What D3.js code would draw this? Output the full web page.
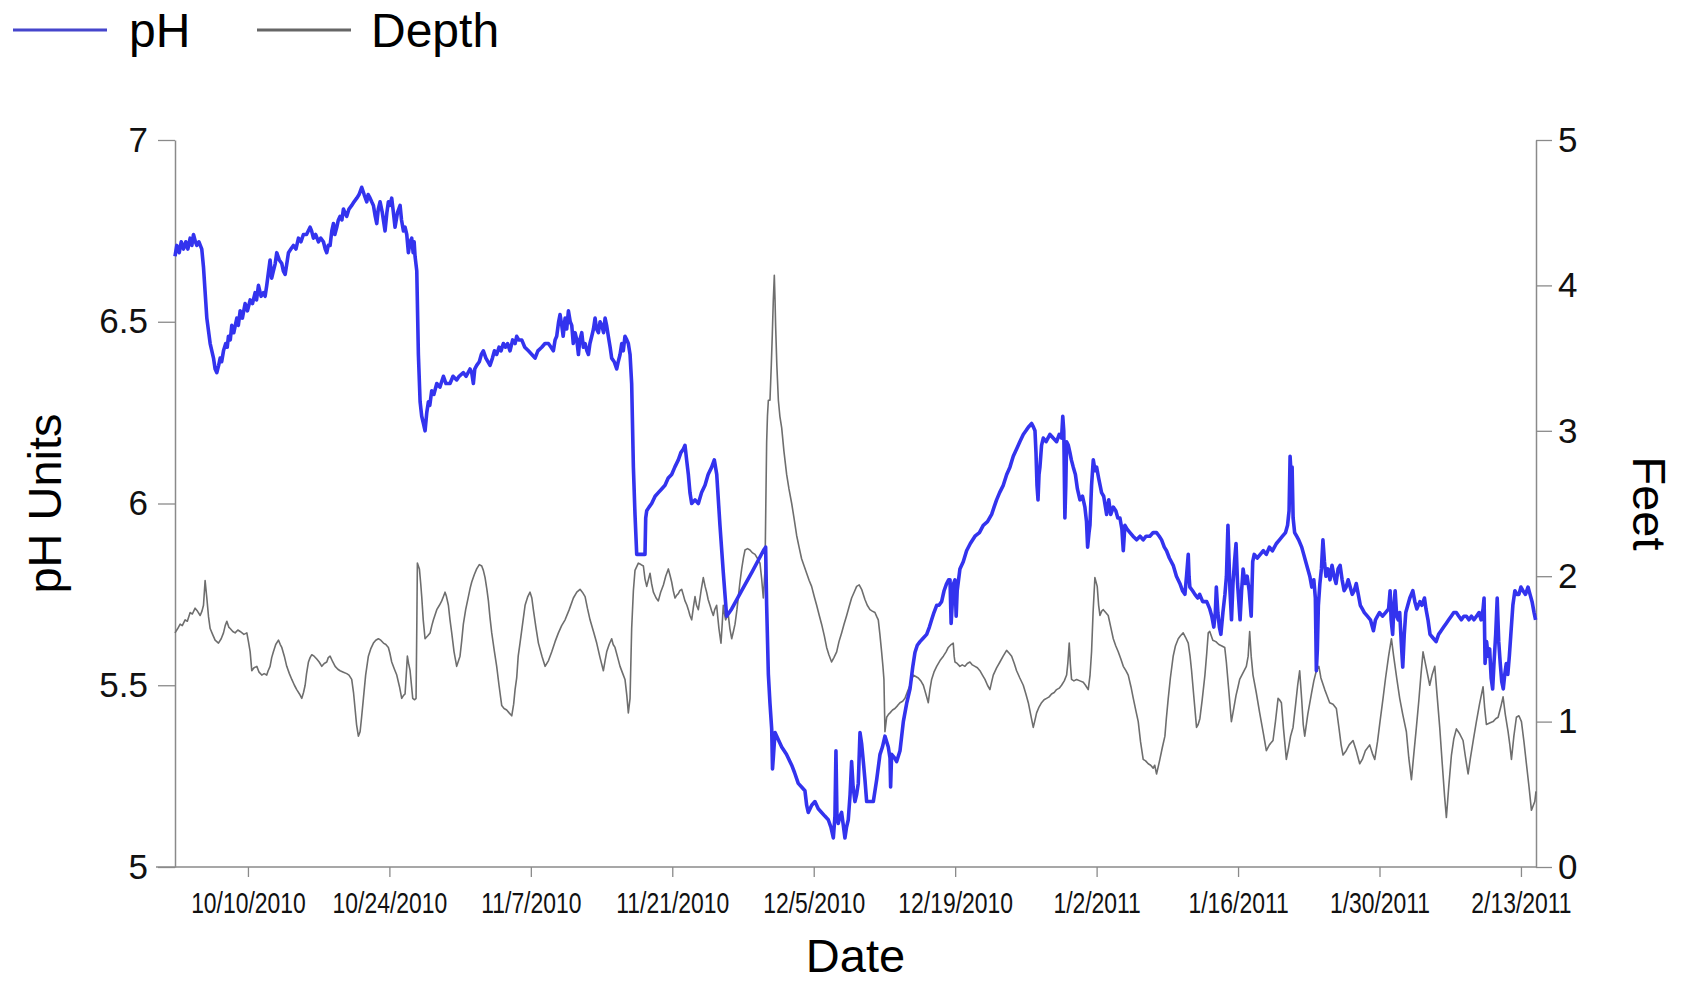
<!DOCTYPE html>
<html>
<head>
<meta charset="utf-8">
<script src="https://cdn.jsdelivr.net/npm/d3@7/dist/d3.min.js"></script>
<style>
  body { margin: 0; background: #fff; }
  svg { display: block; font-family: "Liberation Sans", Arial, sans-serif; }
</style>
</head>
<body>
<svg id="chart" width="1682" height="986"></svg>
<script>
// readings are stored as [days after 10/1/2010, value]
var phData = [
  [1.78,6.68],[1.96,6.71],[2.2,6.69],[2.4,6.72],[2.62,6.70],[2.85,6.72],[3.05,6.70],[3.28,6.73],[3.45,6.71],[3.61,6.74],[3.8,6.72],[3.94,6.71],[4.15,6.72],[4.43,6.70],
  [4.6,6.65],[4.93,6.51],[5.26,6.44],[5.59,6.40],[5.75,6.37],[5.92,6.36],[6.1,6.38],[6.25,6.40],[6.4,6.39],[6.58,6.42],[6.8,6.44],[6.95,6.43],[7.07,6.46],[7.25,6.45],
  [7.4,6.49],[7.6,6.47],[7.9,6.51],[8.05,6.49],[8.23,6.53],[8.45,6.51],[8.72,6.55],[8.95,6.53],[9.22,6.56],[9.45,6.55],[9.71,6.58],[9.85,6.56],[10.04,6.60],[10.3,6.57],
  [10.53,6.58],[10.7,6.57],[10.86,6.60],[11.0,6.63],[11.19,6.67],[11.35,6.62],[11.52,6.64],[11.7,6.66],[11.85,6.69],[12.1,6.67],[12.35,6.66],[12.5,6.64],[12.68,6.63],
  [12.85,6.66],[13.01,6.69],[13.25,6.70],[13.5,6.71],[13.75,6.70],[14.0,6.73],[14.25,6.72],[14.49,6.74],[14.8,6.74],[15.15,6.76],[15.3,6.75],[15.48,6.73],[15.7,6.74],
  [15.98,6.72],[16.2,6.73],[16.47,6.72],[16.65,6.70],[16.8,6.69],[16.95,6.71],[17.13,6.71],[17.3,6.75],[17.46,6.77],[17.6,6.74],[17.79,6.76],[17.95,6.78],[18.12,6.79],
  [18.3,6.78],[18.45,6.81],[18.6,6.80],[18.78,6.79],[19.0,6.81],[19.27,6.82],[19.5,6.83],[19.77,6.84],[20.0,6.85],[20.26,6.87],[20.5,6.85],[20.76,6.83],[20.9,6.85],
  [21.09,6.84],[21.25,6.83],[21.42,6.82],[21.6,6.79],[21.75,6.77],[21.9,6.81],[22.08,6.83],[22.3,6.80],[22.57,6.75],[22.75,6.80],[22.9,6.83],[23.05,6.82],[23.23,6.84],
  [23.4,6.80],[23.56,6.76],[23.8,6.80],[24.06,6.82],[24.2,6.78],[24.39,6.75],[24.55,6.76],[24.72,6.74],[24.88,6.69],[25.05,6.72],[25.21,6.73],[25.35,6.69],[25.45,6.72],
  [25.54,6.68],[25.71,6.64],[25.87,6.41],[26.04,6.28],[26.2,6.24],[26.37,6.22],[26.53,6.20],[26.7,6.25],[26.86,6.28],[27.0,6.27],[27.19,6.31],[27.4,6.30],[27.69,6.33],
  [28.0,6.32],[28.35,6.35],[28.6,6.33],[29.0,6.33],[29.3,6.35],[29.66,6.34],[29.9,6.35],[30.32,6.36],[30.6,6.35],[30.98,6.37],[31.15,6.36],[31.31,6.33],[31.45,6.37],
  [31.64,6.38],[31.9,6.39],[32.1,6.41],[32.3,6.42],[32.55,6.40],[32.75,6.39],[32.96,6.38],[33.2,6.40],[33.4,6.42],[33.62,6.41],[33.85,6.43],[34.05,6.42],[34.28,6.44],
  [34.5,6.43],[34.7,6.44],[34.94,6.42],[35.2,6.45],[35.44,6.44],[35.6,6.46],[35.8,6.45],[36.1,6.45],[36.4,6.43],[36.76,6.42],[37.1,6.41],[37.42,6.40],[37.7,6.42],
  [38.08,6.43],[38.4,6.44],[38.74,6.44],[39.0,6.43],[39.23,6.42],[39.4,6.45],[39.56,6.46],[39.75,6.50],[39.89,6.52],[40.06,6.49],[40.2,6.46],[40.39,6.51],[40.55,6.48],
  [40.72,6.53],[40.9,6.50],[41.05,6.49],[41.2,6.44],[41.38,6.47],[41.55,6.45],[41.71,6.41],[41.85,6.45],[42.04,6.47],[42.2,6.43],[42.37,6.44],[42.55,6.42],[42.7,6.41],
  [42.85,6.44],[43.03,6.46],[43.2,6.48],[43.36,6.51],[43.5,6.48],[43.69,6.47],[43.85,6.50],[44.02,6.49],[44.2,6.47],[44.35,6.51],[44.5,6.49],[44.67,6.46],[44.85,6.43],
  [45.0,6.40],[45.25,6.39],[45.5,6.37],[45.65,6.39],[45.83,6.41],[46.0,6.44],[46.15,6.42],[46.32,6.46],[46.5,6.45],[46.65,6.44],[46.82,6.41],[46.98,6.33],[47.15,6.10],
  [47.31,5.97],[47.48,5.86],[47.9,5.86],[48.3,5.86],[48.37,5.96],[48.47,5.98],[48.7,5.99],[48.96,6.00],[49.3,6.02],[49.62,6.03],[49.95,6.04],[50.28,6.05],[50.6,6.07],
  [50.94,6.08],[51.25,6.10],[51.6,6.12],[51.85,6.14],[52.1,6.15],[52.26,6.16],[52.42,6.12],[52.59,6.08],[52.75,6.03],[52.92,6.00],[53.25,6.01],[53.58,6.00],[53.9,6.03],
  [54.24,6.05],[54.55,6.08],[54.9,6.10],[55.16,6.12],[55.4,6.08],[55.72,5.94],[56.05,5.81],[56.38,5.69],[56.88,5.71],[57.87,5.76],[58.86,5.81],[60.01,5.87],[60.24,5.88],
  [60.34,5.72],[60.51,5.53],[60.67,5.45],[60.84,5.38],[60.92,5.27],[61.0,5.30],[61.17,5.37],[61.5,5.35],[61.83,5.33],[62.3,5.31],[62.82,5.28],[63.1,5.26],[63.47,5.23],
  [63.8,5.22],[64.13,5.21],[64.3,5.17],[64.46,5.15],[64.8,5.17],[65.12,5.18],[65.45,5.16],[65.78,5.15],[66.1,5.14],[66.44,5.13],[66.7,5.11],[66.94,5.08],[67.05,5.12],
  [67.1,5.14],[67.2,5.32],[67.3,5.14],[67.43,5.12],[67.6,5.14],[67.76,5.15],[67.95,5.11],[68.09,5.08],[68.25,5.11],[68.42,5.13],[68.6,5.20],[68.75,5.29],[68.9,5.22],
  [69.08,5.18],[69.25,5.20],[69.41,5.23],[69.58,5.37],[69.74,5.34],[69.91,5.29],[70.07,5.24],[70.24,5.18],[70.6,5.18],[70.9,5.18],[71.23,5.24],[71.56,5.31],[71.8,5.33],
  [72.05,5.36],[72.38,5.33],[72.55,5.30],[72.61,5.22],[72.71,5.31],[73.0,5.30],[73.21,5.29],[73.54,5.32],[73.87,5.40],[74.2,5.45],[74.53,5.49],[74.8,5.55],[75.02,5.59],
  [75.25,5.61],[75.52,5.62],[75.85,5.63],[76.18,5.64],[76.45,5.66],[76.67,5.68],[76.9,5.70],[77.17,5.72],[77.4,5.72],[77.66,5.73],[77.9,5.76],[78.16,5.78],[78.35,5.79],
  [78.49,5.79],[78.6,5.67],[78.7,5.72],[78.85,5.78],[78.98,5.79],[79.1,5.69],[79.2,5.76],[79.47,5.82],[79.8,5.84],[80.13,5.87],[80.5,5.89],[80.96,5.91],[81.4,5.92],
  [81.78,5.94],[82.2,5.95],[82.61,5.97],[82.85,5.99],[83.1,6.01],[83.4,6.03],[83.76,6.05],[84.1,6.08],[84.42,6.10],[84.75,6.13],[85.08,6.15],[85.4,6.17],[85.74,6.19],
  [86.0,6.20],[86.24,6.21],[86.57,6.22],[86.75,6.21],[86.9,6.20],[87.0,6.14],[87.1,6.05],[87.2,6.01],[87.3,6.08],[87.39,6.10],[87.55,6.16],[87.72,6.18],[88.0,6.17],
  [88.38,6.19],[88.7,6.18],[89.04,6.17],[89.3,6.19],[89.53,6.18],[89.65,6.24],[89.75,6.20],[89.86,5.96],[89.95,6.05],[90.03,6.17],[90.2,6.16],[90.36,6.14],[90.5,6.12],
  [90.69,6.10],[90.9,6.08],[91.1,6.04],[91.35,6.01],[91.6,6.02],[91.84,5.99],[92.0,5.95],[92.11,5.88],[92.25,5.92],[92.34,5.94],[92.5,6.05],[92.67,6.12],[92.85,6.09],
  [93.0,6.10],[93.2,6.07],[93.49,6.03],[93.7,6.02],[93.99,5.97],[94.2,6.01],[94.4,5.97],[94.65,5.99],[94.9,5.98],[95.1,5.96],[95.31,5.96],[95.5,5.93],[95.64,5.87],
  [95.8,5.94],[96.0,5.93],[96.3,5.92],[96.6,5.91],[96.96,5.90],[97.3,5.91],[97.61,5.90],[97.9,5.91],[98.27,5.91],[98.6,5.92],[98.93,5.92],[99.2,5.91],[99.43,5.90],
  [99.7,5.88],[99.92,5.87],[100.2,5.85],[100.58,5.83],[100.9,5.80],[101.24,5.78],[101.5,5.76],[101.74,5.75],[101.9,5.80],[102.07,5.86],[102.15,5.80],[102.23,5.77],
  [102.5,5.76],[102.73,5.75],[103.0,5.74],[103.2,5.75],[103.5,5.73],[103.9,5.73],[104.2,5.71],[104.4,5.69],[104.6,5.66],[104.75,5.70],[104.85,5.77],[105.0,5.70],
  [105.15,5.66],[105.3,5.64],[105.5,5.70],[105.7,5.75],[105.85,5.80],[106.0,5.94],[106.1,5.85],[106.2,5.76],[106.35,5.68],[106.5,5.78],[106.65,5.84],[106.8,5.89],
  [106.95,5.78],[107.1,5.72],[107.2,5.68],[107.35,5.76],[107.5,5.82],[107.7,5.78],[107.9,5.80],[108.1,5.76],[108.3,5.69],[108.45,5.84],[108.6,5.86],[108.9,5.85],
  [109.2,5.86],[109.5,5.87],[109.8,5.86],[110.1,5.88],[110.4,5.87],[110.8,5.89],[111.1,5.90],[111.4,5.91],[111.7,5.92],[111.9,5.94],[112.05,5.98],[112.15,6.13],
  [112.25,6.08],[112.35,6.10],[112.45,5.96],[112.6,5.92],[112.8,5.91],[113.0,5.90],[113.3,5.88],[113.5,5.86],[113.7,5.84],[113.9,5.82],[114.1,5.80],[114.3,5.77],
  [114.5,5.79],[114.65,5.74],[114.75,5.54],[114.85,5.60],[114.95,5.72],[115.1,5.78],[115.25,5.82],[115.4,5.90],[115.55,5.84],[115.7,5.80],[115.9,5.82],[116.1,5.79],
  [116.3,5.83],[116.5,5.80],[116.7,5.78],[116.9,5.82],[117.1,5.83],[117.3,5.79],[117.5,5.76],[117.7,5.77],[117.9,5.79],[118.1,5.77],[118.3,5.75],[118.5,5.76],
  [118.7,5.78],[118.9,5.75],[119.1,5.72],[119.3,5.71],[119.5,5.70],[119.8,5.69],[120.1,5.68],[120.4,5.65],[120.6,5.68],[120.8,5.69],[121.0,5.70],[121.3,5.69],
  [121.6,5.70],[121.9,5.71],[122.05,5.76],[122.15,5.68],[122.3,5.64],[122.45,5.73],[122.55,5.76],[122.7,5.69],[122.85,5.68],[123.0,5.70],[123.15,5.62],[123.3,5.55],
  [123.45,5.64],[123.6,5.70],[123.8,5.72],[124.0,5.74],[124.3,5.76],[124.5,5.73],[124.7,5.71],[125.0,5.73],[125.2,5.72],[125.45,5.74],[125.6,5.71],[125.8,5.68],
  [126.0,5.64],[126.3,5.63],[126.6,5.62],[126.85,5.64],[127.1,5.65],[127.35,5.66],[127.6,5.67],[127.85,5.68],[128.1,5.69],[128.35,5.70],[128.6,5.70],[128.85,5.69],
  [129.1,5.68],[129.35,5.69],[129.6,5.69],[129.85,5.68],[130.1,5.69],[130.35,5.68],[130.6,5.69],[130.85,5.70],[131.05,5.68],[131.25,5.71],[131.35,5.74],[131.45,5.56],
  [131.6,5.62],[131.75,5.58],[131.9,5.60],[132.05,5.52],[132.2,5.49],[132.35,5.57],[132.5,5.64],[132.65,5.74],[132.8,5.62],[132.95,5.56],[133.1,5.51],[133.25,5.49],
  [133.4,5.53],[133.55,5.56],[133.7,5.53],[133.85,5.58],[134.0,5.64],[134.2,5.72],[134.4,5.76],[134.6,5.75],[134.8,5.75],[135.0,5.77],[135.2,5.76],[135.45,5.75],
  [135.7,5.77],[135.9,5.75],[136.1,5.73],[136.3,5.70],[136.45,5.68]
];

var depthData = [
  [1.78,1.61],[2.05,1.64],[2.29,1.67],[2.5,1.66],[2.78,1.70],[3.0,1.69],[3.28,1.75],[3.5,1.74],[3.77,1.78],[4.0,1.76],[4.27,1.73],[4.45,1.76],[4.6,1.80],[4.76,1.97],
  [4.93,1.85],[5.1,1.72],[5.26,1.64],[5.5,1.60],[5.75,1.56],[6.08,1.54],[6.35,1.57],[6.58,1.61],[6.75,1.66],[6.91,1.69],[7.1,1.65],[7.24,1.64],[7.5,1.62],[7.73,1.61],
  [8.0,1.63],[8.23,1.62],[8.6,1.60],[8.89,1.61],[9.05,1.55],[9.22,1.48],[9.38,1.35],[9.6,1.37],[9.88,1.38],[10.1,1.34],[10.37,1.32],[10.6,1.33],[10.86,1.32],[11.0,1.35],
  [11.19,1.38],[11.35,1.44],[11.52,1.48],[11.75,1.53],[12.02,1.56],[12.2,1.53],[12.35,1.51],[12.6,1.45],[12.84,1.38],[13.1,1.33],[13.34,1.29],[13.6,1.25],[13.83,1.22],
  [14.1,1.19],[14.33,1.16],[14.5,1.20],[14.66,1.25],[14.8,1.33],[14.99,1.41],[15.15,1.44],[15.32,1.46],[15.55,1.45],[15.81,1.43],[16.05,1.41],[16.31,1.38],[16.55,1.40],
  [16.8,1.41],[16.95,1.44],[17.13,1.45],[17.4,1.41],[17.63,1.38],[17.9,1.36],[18.12,1.35],[18.45,1.34],[18.78,1.33],[19.0,1.32],[19.27,1.29],[19.45,1.20],[19.6,1.09],
  [19.75,0.98],[19.93,0.90],[20.1,0.93],[20.25,1.03],[20.43,1.16],[20.65,1.32],[20.92,1.45],[21.15,1.50],[21.42,1.54],[21.65,1.56],[21.91,1.57],[22.15,1.56],[22.41,1.54],
  [22.65,1.53],[22.9,1.51],[23.05,1.47],[23.23,1.41],[23.5,1.36],[23.73,1.32],[24.0,1.24],[24.22,1.16],[24.4,1.18],[24.55,1.19],[24.65,1.30],[24.78,1.45],[24.9,1.40],
  [25.05,1.35],[25.2,1.24],[25.31,1.16],[25.5,1.15],[25.64,1.16],[25.72,1.70],[25.77,2.09],[25.97,2.05],[26.1,1.95],[26.2,1.86],[26.35,1.70],[26.53,1.57],[26.8,1.59],
  [27.03,1.61],[27.2,1.66],[27.36,1.70],[27.5,1.73],[27.69,1.77],[27.95,1.80],[28.18,1.83],[28.35,1.86],[28.51,1.89],[28.65,1.86],[28.84,1.80],[29.0,1.70],[29.17,1.61],
  [29.4,1.48],[29.66,1.38],[29.85,1.42],[29.99,1.45],[30.15,1.55],[30.32,1.67],[30.55,1.77],[30.82,1.86],[31.0,1.92],[31.15,1.96],[31.4,2.01],[31.64,2.05],[31.9,2.08],
  [32.14,2.07],[32.3,2.04],[32.47,1.99],[32.65,1.91],[32.8,1.83],[32.95,1.72],[33.13,1.61],[33.4,1.48],[33.62,1.38],[33.85,1.25],[34.12,1.11],[34.35,1.09],[34.61,1.08],
  [34.85,1.06],[35.11,1.04],[35.3,1.12],[35.44,1.22],[35.6,1.30],[35.75,1.45],[35.93,1.54],[36.2,1.68],[36.43,1.80],[36.7,1.86],[36.92,1.89],[37.1,1.85],[37.25,1.77],
  [37.5,1.65],[37.75,1.54],[38.1,1.45],[38.41,1.38],[38.75,1.42],[39.07,1.48],[39.4,1.55],[39.73,1.61],[40.05,1.66],[40.39,1.70],[40.8,1.77],[41.21,1.85],[41.55,1.89],
  [41.87,1.91],[42.1,1.89],[42.37,1.86],[42.6,1.78],[42.86,1.70],[43.2,1.62],[43.52,1.54],[43.85,1.44],[44.18,1.35],[44.35,1.42],[44.51,1.48],[44.75,1.53],[45.0,1.57],
  [45.15,1.53],[45.33,1.51],[45.6,1.44],[45.83,1.38],[46.1,1.33],[46.32,1.29],[46.5,1.18],[46.65,1.06],[46.82,1.16],[46.98,1.64],[47.15,1.90],[47.31,2.04],[47.64,2.09],
  [47.9,2.08],[48.14,2.07],[48.3,1.98],[48.47,1.93],[48.65,1.98],[48.8,2.02],[48.95,1.95],[49.13,1.89],[49.4,1.85],[49.62,1.83],[49.85,1.89],[50.12,1.94],[50.35,2.00],
  [50.61,2.05],[50.8,2.00],[50.94,1.96],[51.1,1.90],[51.27,1.85],[51.45,1.87],[51.6,1.88],[51.75,1.90],[51.93,1.91],[52.1,1.87],[52.26,1.83],[52.45,1.80],[52.59,1.77],
  [52.75,1.73],[52.92,1.70],[53.1,1.79],[53.25,1.86],[53.4,1.80],[53.58,1.77],[53.85,1.90],[54.07,1.99],[54.25,1.93],[54.4,1.89],[54.55,1.84],[54.73,1.80],[54.9,1.76],
  [55.06,1.73],[55.2,1.77],[55.39,1.80],[55.5,1.72],[55.62,1.64],[55.82,1.54],[55.95,1.68],[56.05,1.80],[56.15,1.75],[56.28,1.70],[56.4,1.72],[56.55,1.73],[56.7,1.64],
  [56.88,1.57],[57.05,1.62],[57.21,1.67],[57.4,1.77],[57.54,1.86],[57.7,1.96],[57.87,2.05],[58.05,2.13],[58.2,2.18],[58.45,2.19],[58.69,2.18],[58.95,2.16],[59.19,2.15],
  [59.45,2.12],[59.68,2.09],[59.85,1.98],[60.01,1.85],[60.1,1.95],[60.18,2.05],[60.26,2.50],[60.34,2.92],[60.42,3.10],[60.51,3.21],[60.67,3.21],[60.8,3.45],[60.9,3.66],
  [61.0,3.90],[61.1,4.07],[61.17,3.90],[61.23,3.72],[61.35,3.45],[61.5,3.21],[61.65,3.10],[61.83,3.02],[62.05,2.86],[62.32,2.70],[62.55,2.60],[62.82,2.50],[63.05,2.40],
  [63.31,2.28],[63.55,2.20],[63.8,2.12],[64.05,2.07],[64.3,2.02],[64.55,1.97],[64.79,1.93],[65.05,1.86],[65.29,1.80],[65.55,1.73],[65.78,1.67],[66.05,1.59],[66.28,1.51],
  [66.5,1.46],[66.77,1.41],[67.0,1.44],[67.27,1.48],[67.5,1.55],[67.76,1.61],[68.0,1.67],[68.26,1.73],[68.5,1.79],[68.75,1.85],[69.0,1.89],[69.25,1.93],[69.5,1.94],
  [69.74,1.91],[70.07,1.84],[70.3,1.80],[70.57,1.77],[70.8,1.76],[71.06,1.75],[71.25,1.72],[71.39,1.70],[71.55,1.60],[71.72,1.48],[71.85,1.38],[71.95,1.29],[72.05,0.93],
  [72.22,1.03],[72.4,1.05],[72.55,1.06],[72.8,1.08],[73.04,1.09],[73.3,1.11],[73.54,1.13],[73.8,1.14],[74.03,1.16],[74.3,1.21],[74.53,1.25],[74.7,1.29],[74.86,1.32],
  [75.1,1.31],[75.35,1.30],[75.6,1.28],[75.85,1.25],[76.1,1.19],[76.34,1.13],[76.5,1.22],[76.67,1.29],[76.9,1.34],[77.17,1.38],[77.5,1.42],[77.83,1.45],[78.1,1.48],
  [78.32,1.51],[78.6,1.53],[78.81,1.54],[78.9,1.45],[78.98,1.41],[79.2,1.40],[79.47,1.38],[79.7,1.39],[79.97,1.38],[80.2,1.40],[80.46,1.41],[80.7,1.39],[80.96,1.38],
  [81.2,1.37],[81.45,1.35],[81.7,1.32],[81.95,1.29],[82.2,1.25],[82.44,1.22],[82.6,1.27],[82.77,1.32],[83.1,1.37],[83.43,1.41],[83.75,1.45],[84.09,1.49],[84.35,1.47],
  [84.59,1.45],[84.85,1.40],[85.08,1.35],[85.4,1.30],[85.74,1.25],[86.0,1.19],[86.24,1.13],[86.5,1.04],[86.73,0.96],[86.9,1.01],[87.06,1.06],[87.3,1.10],[87.55,1.13],
  [87.8,1.15],[88.05,1.16],[88.3,1.17],[88.54,1.19],[88.8,1.20],[89.04,1.22],[89.3,1.23],[89.53,1.25],[89.8,1.28],[90.03,1.32],[90.15,1.40],[90.29,1.54],[90.4,1.40],
  [90.52,1.29],[90.75,1.28],[91.02,1.29],[91.35,1.28],[91.68,1.27],[91.9,1.25],[92.17,1.22],[92.35,1.32],[92.5,1.48],[92.65,1.75],[92.83,1.99],[93.06,1.93],[93.2,1.80],
  [93.33,1.73],[93.5,1.76],[93.66,1.77],[93.9,1.75],[94.15,1.73],[94.4,1.65],[94.65,1.57],[94.9,1.52],[95.14,1.48],[95.4,1.43],[95.64,1.38],[95.9,1.35],[96.13,1.32],
  [96.4,1.24],[96.63,1.16],[96.9,1.07],[97.12,1.00],[97.35,0.86],[97.61,0.74],[97.85,0.73],[98.11,0.71],[98.35,0.70],[98.6,0.68],[98.75,0.70],[98.93,0.64],[99.1,0.69],
  [99.26,0.74],[99.5,0.82],[99.76,0.90],[99.9,1.02],[100.09,1.16],[100.3,1.30],[100.58,1.45],[100.8,1.52],[101.08,1.57],[101.3,1.59],[101.57,1.61],[101.8,1.58],
  [102.07,1.54],[102.25,1.45],[102.4,1.35],[102.65,1.15],[102.89,0.96],[103.05,0.98],[103.22,1.02],[103.45,1.15],[103.72,1.32],[103.9,1.47],[104.05,1.61],[104.2,1.62],
  [104.5,1.56],[104.8,1.55],[105.1,1.53],[105.4,1.52],[105.68,1.51],[105.84,1.41],[106.1,1.20],[106.34,1.00],[106.55,1.08],[106.8,1.18],[107.0,1.24],[107.16,1.29],
  [107.45,1.33],[107.82,1.38],[108.0,1.45],[108.15,1.62],[108.3,1.45],[108.48,1.32],[108.8,1.20],[109.14,1.06],[109.5,0.92],[109.8,0.80],[110.1,0.84],[110.46,0.87],
  [110.7,1.00],[110.96,1.16],[111.1,1.15],[111.29,1.13],[111.5,0.95],[111.78,0.74],[112.0,0.82],[112.2,0.90],[112.44,0.96],[112.7,1.12],[112.9,1.25],[113.1,1.35],
  [113.3,1.15],[113.45,0.98],[113.6,0.90],[113.9,1.05],[114.26,1.19],[114.5,1.28],[114.75,1.35],[115.0,1.38],[115.2,1.30],[115.58,1.22],[115.8,1.18],[116.07,1.13],
  [116.4,1.12],[116.73,1.09],[117.0,0.95],[117.2,0.84],[117.39,0.77],[117.7,0.80],[118.0,0.84],[118.38,0.87],[118.7,0.80],[119.04,0.71],[119.3,0.74],[119.6,0.80],
  [120.03,0.84],[120.3,0.78],[120.53,0.74],[120.8,0.86],[121.05,1.00],[121.35,1.16],[121.6,1.30],[121.9,1.45],[122.18,1.57],[122.4,1.45],[122.7,1.30],[123.0,1.16],
  [123.3,1.05],[123.66,0.93],[123.9,0.75],[124.16,0.60],[124.4,0.78],[124.65,0.96],[124.9,1.15],[125.1,1.32],[125.31,1.48],[125.6,1.38],[125.97,1.25],[126.2,1.32],
  [126.47,1.38],[126.7,1.18],[126.96,0.96],[127.2,0.72],[127.45,0.48],[127.62,0.34],[127.85,0.55],[128.12,0.77],[128.35,0.88],[128.61,0.95],[128.9,0.92],[129.27,0.87],
  [129.5,0.76],[129.77,0.64],[130.0,0.75],[130.3,0.88],[130.59,1.00],[130.9,1.12],[131.25,1.24],[131.4,1.10],[131.58,0.98],[131.9,0.99],[132.24,1.00],[132.5,1.02],
  [132.74,1.03],[133.0,1.10],[133.23,1.17],[133.45,1.05],[133.73,0.93],[133.9,0.84],[134.06,0.74],[134.3,0.90],[134.55,1.03],[134.8,1.04],[135.05,1.00],[135.3,0.86],
  [135.54,0.71],[135.8,0.55],[136.04,0.39],[136.2,0.42],[136.37,0.45],[136.49,0.52]
];

var dateTicks = ["10/10/2010", "10/24/2010", "11/7/2010", "11/21/2010", "12/5/2010",
                 "12/19/2010", "1/2/2011", "1/16/2011", "1/30/2011", "2/13/2011"];
var phTicks = [5, 5.5, 6, 6.5, 7];
var depthTicks = [0, 1, 2, 3, 4, 5];
var seriesNames = ["pH", "Depth"];
var seriesColors = ["#3333ee", "#6e6e6e"];

var svg = d3.select("#chart");

var margin = {left: 175, right: 146, top: 140, bottom: 119};
var width = +svg.attr("width"), height = +svg.attr("height");

var startDay = Date.UTC(2010, 9, 1);
function toDate(d) { return new Date(startDay + d * 864e5); }
var parseTick = d3.utcParse("%m/%d/%Y");

var x = d3.scaleUtc()
    .domain([toDate(1.78), toDate(136.49)])
    .range([margin.left, width - margin.right]);

var yPh = d3.scaleLinear().domain([5, 7]).range([height - margin.bottom, margin.top]);
var yDepth = d3.scaleLinear().domain([0, 5]).range([height - margin.bottom, margin.top]);

var axisColor = "#8a8a8a";

// bottom axis
var xAxis = svg.append("g")
    .attr("transform", "translate(0," + (height - margin.bottom) + ")")
    .call(d3.axisBottom(x)
      .tickValues(dateTicks.map(parseTick))
      .tickFormat(d3.utcFormat("%-m/%-d/%Y"))
      .tickSize(10)
      .tickSizeOuter(0)
      .tickPadding(15));
xAxis.select(".domain").remove();
xAxis.append("line")
    .attr("x1", margin.left - 19).attr("x2", width - margin.right)
    .attr("stroke", axisColor).attr("stroke-width", 1.5);
xAxis.selectAll(".tick line").attr("stroke", axisColor).attr("stroke-width", 1.3);
xAxis.selectAll(".tick text")
    .attr("fill", "#111")
    .style("font-size", "29px")
    .attr("transform", "scale(0.79,1)");

// left axis for pH
var leftAxis = svg.append("g")
    .attr("transform", "translate(" + margin.left + ",0)")
    .call(d3.axisLeft(yPh).tickValues(phTicks).tickFormat(function(d) { return d; })
      .tickSize(17).tickSizeOuter(0).tickPadding(10));

// right axis for depth
var rightAxis = svg.append("g")
    .attr("transform", "translate(" + (width - margin.right) + ",0)")
    .call(d3.axisRight(yDepth).tickValues(depthTicks).tickFormat(function(d) { return d; })
      .tickSize(16).tickSizeOuter(0).tickPadding(6));

[leftAxis, rightAxis].forEach(function(a) {
  a.select(".domain").attr("stroke", axisColor).attr("stroke-width", 1.5);
  a.selectAll(".tick line").attr("stroke", axisColor).attr("stroke-width", 1.3);
  a.selectAll(".tick text").attr("fill", "#111").style("font-size", "35px");
});

// the two series
var phLine = d3.line()
    .x(function(d) { return x(toDate(d[0])); })
    .y(function(d) { return yPh(d[1]); });

var depthLine = d3.line()
    .x(function(d) { return x(toDate(d[0])); })
    .y(function(d) { return yDepth(d[1]); });

svg.append("path")
    .datum(depthData)
    .attr("fill", "none")
    .attr("stroke", seriesColors[1])
    .attr("stroke-width", 1.6)
    .attr("stroke-linejoin", "round")
    .attr("d", depthLine);

svg.append("path")
    .datum(phData)
    .attr("fill", "none")
    .attr("stroke", seriesColors[0])
    .attr("stroke-width", 3.6)
    .attr("stroke-linejoin", "round")
    .attr("d", phLine);

// axis titles
svg.append("text")
    .attr("transform", "translate(61," + ((margin.top + height - margin.bottom) / 2) + ") rotate(-90)")
    .attr("text-anchor", "middle")
    .style("font-size", "47px")
    .text("pH Units");

svg.append("text")
    .attr("transform", "translate(1633," + ((margin.top + height - margin.bottom) / 2) + ") rotate(90)")
    .attr("text-anchor", "middle")
    .style("font-size", "47px")
    .text("Feet");

svg.append("text")
    .attr("x", (margin.left + width - margin.right) / 2)
    .attr("y", 972)
    .attr("text-anchor", "middle")
    .style("font-size", "47px")
    .text("Date");

// legend at the top left
var legend = svg.selectAll(".legend")
    .data(seriesNames).enter()
    .append("g")
    .attr("class", "legend")
    .attr("transform", function(d, i) { return "translate(" + (13 + i * 244) + ",30)"; });

legend.append("line")
    .attr("x1", 0).attr("x2", 94)
    .attr("stroke", function(d, i) { return i == 0 ? "#4545cc" : "#666"; })
    .attr("stroke-width", 3);

legend.append("text")
    .attr("x", function(d, i) { return i == 0 ? 116 : 114; })
    .attr("y", 17)
    .style("font-size", "48px")
    .text(function(d) { return d; });
</script>
</body>
</html>
